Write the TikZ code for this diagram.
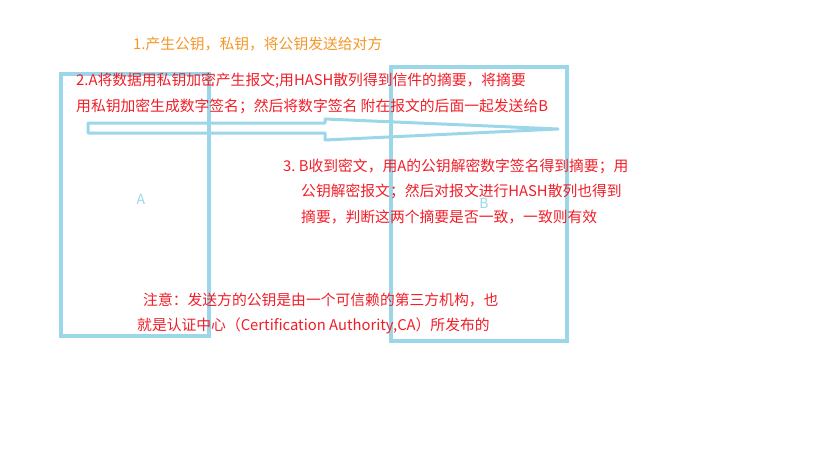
\documentclass[tikz,border=0pt]{standalone}
\usepackage{fontspec}
\setmainfont{Noto Sans CJK SC}
\usetikzlibrary{positioning}
\definecolor{boxblue}{RGB}{155,215,232}
\definecolor{txtred}{RGB}{240,30,40}
\definecolor{txtorange}{RGB}{245,150,40}
\begin{document}
\begin{tikzpicture}[x=1pt, y=-1pt,
  box/.style={draw=boxblue, line width=3.5pt},
  note/.style={anchor=west, inner sep=0pt, text=txtred, font=\fontsize{14.8}{17}\selectfont}]
\useasboundingbox (0,0) rectangle (819,460);
% the two parties
\draw[box] (61,74) rectangle (209,336);
\draw[box] (391,67) rectangle (567,341);
\node[text=boxblue, font=\fontsize{14}{16}\selectfont] (la) at (141,199) {A};
\node[text=boxblue, font=\fontsize{14}{16}\selectfont] (lb) at (484,203) {B};
% hollow arrow A -> B
\draw[draw=boxblue, line width=3pt, line join=round]
  (88,123) -- (325,123) -- (325,119) -- (558,129) -- (325,140) -- (325,133) -- (88,133) -- cycle;
% steps
\node[note, text=txtorange] (s1) at (133,44) {1.产生公钥，私钥，将公钥发送给对方};
\node[note] (s2a) at (76,81) {2.A将数据用私钥加密产生报文;用HASH散列得到信件的摘要，将摘要};
\node[note] (s2b) at (76,106) {用私钥加密生成数字签名；然后将数字签名 附在报文的后面一起发送给B};
\node[note] (s3a) at (283,166) {3.\ B收到密文，用A的公钥解密数字签名得到摘要；用};
\node[note] (s3b) at (301,191) {公钥解密报文；然后对报文进行HASH散列也得到};
\node[note] (s3c) at (301,217) {摘要，判断这两个摘要是否一致，一致则有效};
\node[note] (n1) at (143,300) {注意：发送方的公钥是由一个可信赖的第三方机构，也};
\node[note] (n2) at (137,326) {就是认证中心（Certification Authority,CA）所发布的};
\end{tikzpicture}
\end{document}
